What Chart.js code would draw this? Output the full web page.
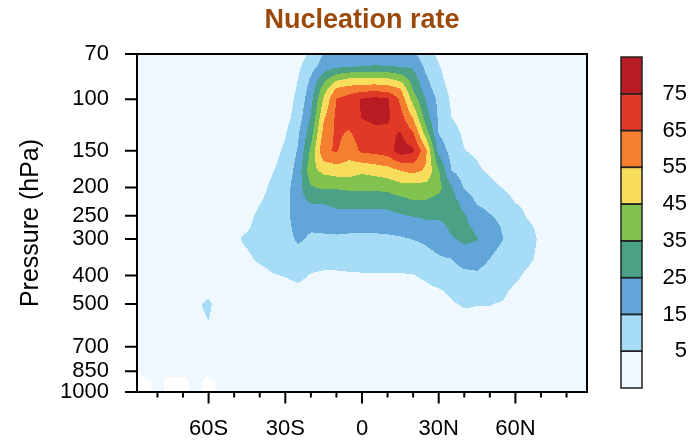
<!DOCTYPE html>
<html>
<head>
<meta charset="utf-8">
<script src="https://cdn.jsdelivr.net/npm/chart.js@4.4.1/dist/chart.umd.min.js"></script>
<style>
  html, body { margin: 0; padding: 0; background: #fff; }
  #wrap { width: 698px; height: 440px; }
</style>
</head>
<body>
<div id="wrap"><canvas id="chart" width="698" height="440"></canvas></div>
<script>
// grid: latitude (deg, S negative) and pressure levels (hPa)
var lats = [-90,-85,-80,-75,-70,-65,-60,-55,-50,-45,-40,-35,-30,-25,-20,-15,-10,-5,0,5,10,15,20,25,30,35,40,45,50,55,60,65,70,75,80,85,90];
var levels = [70,77,85,92,100,115,130,150,175,200,225,250,275,300,350,400,450,500,600,700,850,925,1000];

// nucleation rate, one row per pressure level (null = no data)
//           -90 ............................ -55 | -50 ................................... -5 | 0 ........................................ 45 | 50 ....................... 90
var r70   = [0,0,0,0,0,0,0,0,                 0,0,0,0,0,0,7,15.5,18,20,                         21,21,21,19,16.5,9.3,3,0,0,0,                  0,0,0,0,0,0,0,0,0];
var r77   = [0,0,0,0,0,0,0,0,                 0,0,0,0,0,3,11,19,22.5,24,                        24.5,25.5,25,24,23.5,12.5,5.5,1,0,0,           0,0,0,0,0,0,0,0,0];
var r85   = [0,0,0,0,0,0,0,0,                 0,0,0,0,0,5,16,31,42,45.5,                        46.5,47,46,41,30,16.5,7.2,1.5,0,0,             0,0,0,0,0,0,0,0,0];
var r92   = [0,0,0,0,0,0,0,0,                 0,0,0,0,0,6,19,40,56,59,                          60.5,61,60,55.5,34,20.2,9,2.5,0,0,             0,0,0,0,0,0,0,0,0];
var r100  = [0,0,0,0,0,0,0,0,                 0,0,0,0,0,7.5,21.5,46,65.5,70,                    76,78.5,76.5,63,41,24.5,12.5,3.5,0.5,0,        0,0,0,0,0,0,0,0,0];
var r115  = [0,0,0,0,0,0,0,0,                 0,0,0,0,1,10,25.5,53.5,67,70,                     75.5,78,76.5,69,54,29.5,13.5,5,1.5,0,          0,0,0,0,0,0,0,0,0];
var r130  = [0,0,0,0,0,0,0,0,                 0,0,0,0.5,4.2,13.5,30.5,58,67,64,                 70,72,73,75.5,65.5,40,14.3,8,3.5,0,            0,0,0,0,0,0,0,0,0];
var r150  = [0,0,0,0,0,0,0,0,                 0,0,0,2,6.5,16,37,63.5,66,59,                     67,68,70,80,77,57,22,11,5.3,3.5,               0,0,0,0,0,0,0,0,0];
var r175  = [0,0,0,0,0,0,0,0,                 0,0,0.5,4.4,9,19,42,47.5,50,50,                   47,49,51,55,58,53.5,36,15,10,6.5,              3.5,0,0,0,0,0,0,0,0];
var r200  = [0,0,0,0,0,0,0,0,                 0,0,2,7,11,21,34,36.5,36,37,                      37.3,37,38,41,41,41,38,26,14,10,               8,4.7,1,0,0,0,0,0,0];
var r225  = [0,0,0,0,0,0,0,0,                 0,1,4.5,8.5,12,21,25.5,25.5,28,28,                28,28,28.5,31,34,34,31,29,22,14,               12,10,4.8,3,0,0,0,0,0];
var r250  = [0,0,0,0,0,0,0,0,                 2,2.5,7,9.5,12,20,20,20.5,21.5,21.5,              21.5,21.5,22,24,25.5,26.5,27,28.5,26,19,       15.5,13,8.5,4,1,0,0,0,0];
var r275  = [0,0,0,0,0,0,0,0,                 3,4,8,10,12,18,16,16,16.5,16.5,                   16.6,16.6,17,18,19,22,21,27,27,23.5,           18,14.5,10.5,7,2.5,1,0,0,0];
var r300  = [0,0,0,0,0,0,0,1,                 3.5,6.5,8.5,10,11.5,16.5,13.5,14,14,13.5,         13.3,13.3,13.5,14,15.3,16.5,19,24,27,25.5,     18,15.2,10.5,8,3.5,1,0,0,0];
var r350  = [0,0,0,0,0,0,0,0,                 2.5,3.5,6.5,8,9,11,8.5,8.5,8.5,8.5,               8.4,8.4,8.5,8.5,9,12,14,15,20,19,              15,12.5,8,6.5,3,1,0,0,0];
var r400  = [0,0,0,0,0,0,0,0,                 1,1.5,2,4.5,5.3,6.5,4.5,3.5,3.5,4,                4.3,4.3,4.3,4.4,4.7,6,8,10,12,13.5,            11,9.5,6.5,3.5,1.5,0,0,0,0];
var r450  = [0,0,0,0,0,1,3.5,0,               0,1,1,2,2.5,3.5,2.5,2.5,2.5,2.5,                  3,3,3,3,3,3.5,4.5,6,8,9,                       7.5,6.5,3.5,2,1,0,0,0,0];
var r500  = [0,0,0,0,0,4.2,6,2,               0,0,0.5,1,1.5,2,1.5,1.5,1.5,1.5,                  2,2,2,2,2,2,3,4.5,5.5,5.2,                     5.2,4.6,2,1,0,0,0,0,0];
var r600  = [0,0,0,0,0,3.5,4.6,2,             0,0,0,0.5,1,1.5,1,1,1,1,                          1.5,1.5,1.5,1.5,1.5,1.5,2,2.5,3,3,             3,2.5,1,0.5,0,0,0,0,0];
var r700  = [null,0,0,0,0,1,2,1,              0,0,0,0,0.5,1,0.5,0.5,0.5,0.5,                    1,1,1,1,1,1,1,1.5,2,2,                         2,1.5,0.5,0,0,0,0,0,0];
var r850  = [null,0,0,0,0,0.5,1,0.5,          0,0,0,0,0,0.5,0.5,0.5,0.5,0.5,                    0.5,0.5,0.5,0.5,0.5,0.5,0.5,1,1,1,             1,1,0,0,0,0,0,0,0];
var r925  = [null,null,0,null,null,0,null,0,  0,0,0,0,0,0.5,0.5,0.5,0.5,0.5,                    0.5,0.5,0.5,0.5,0.5,0.5,0.5,0.5,0.5,0.5,       0.5,0.5,0,0,0,0,0,0,0];
var r1000 = [null,null,0,null,null,0,null,0,  0,0,0,0,0,0.5,0.5,0.5,0.5,0.5,                    0.5,0.5,0.5,0.5,0.5,0.5,0.5,0.5,0.5,0.5,       0.5,0.5,0,0,0,0,0,0,0];
var rate = [r70,r77,r85,r92,r100,r115,r130,r150,r175,r200,r225,r250,r275,r300,r350,r400,r450,r500,r600,r700,r850,r925,r1000];

// contour intervals and fill colours (lowest first)
var contourLevels = [5,15,25,35,45,55,65,75];
var fillColors = ['#f0f8ff','#a6dcf6','#62a6d9','#4aa185','#82c350','#f8dc5c','#f47f31','#e03a27','#b81b22'];

// axis ticks
var yTicks = [70,100,150,200,250,300,400,500,700,850,1000];
var xMajor = [-60,-30,0,30,60];
var xMinor = [-80,-70,-50,-40,-20,-10,10,20,40,50,70,80];

Chart.defaults.font.family = "'Liberation Sans', Arial, sans-serif";
Chart.defaults.color = '#000';

function locate(arr, v, useLog) {
    var k = 0;
    while (k < arr.length - 2 && arr[k + 1] < v) k++;
    var f = useLog ? Math.log : function(u) { return u; };
    var t = (f(v) - f(arr[k])) / (f(arr[k + 1]) - f(arr[k]));
    return [k, Math.min(1, Math.max(0, t))];
}

function hexRgb(h) {
    return [parseInt(h.slice(1, 3), 16), parseInt(h.slice(3, 5), 16), parseInt(h.slice(5, 7), 16)];
}

var contourPlugin = {
    id: 'contourFill',
    beforeDatasetsDraw: function(chart) {
        var ctx = chart.ctx, a = chart.chartArea, xs = chart.scales.x, ys = chart.scales.y;
        var left = Math.round(a.left), top = Math.round(a.top);
        var w = Math.round(a.right) - left, h = Math.round(a.bottom) - top;
        var img = ctx.createImageData(w, h);
        var rgb = fillColors.map(hexRgb);
        var cols = [], rows = [];
        for (var i = 0; i < w; i++) cols.push(locate(lats, xs.getValueForPixel(left + i + 0.5), false));
        for (var j = 0; j < h; j++) rows.push(locate(levels, ys.getValueForPixel(top + j + 0.5), true));
        for (j = 0; j < h; j++) {
            var r = rows[j][0], tr = rows[j][1];
            for (i = 0; i < w; i++) {
                var c = cols[i][0], tc = cols[i][1];
                var corners = [
                    [rate[r][c], (1 - tr) * (1 - tc)],
                    [rate[r][c + 1], (1 - tr) * tc],
                    [rate[r + 1][c], tr * (1 - tc)],
                    [rate[r + 1][c + 1], tr * tc]
                ];
                var sum = 0, wsum = 0, miss = 0;
                corners.forEach(function(cw) {
                    if (cw[0] === null) miss += cw[1];
                    else { sum += cw[0] * cw[1]; wsum += cw[1]; }
                });
                if (miss > 0.5 || wsum === 0) continue;
                var v = sum / wsum;
                var idx = 0;
                while (idx < contourLevels.length && v >= contourLevels[idx]) idx++;
                var p = (j * w + i) * 4;
                img.data[p] = rgb[idx][0];
                img.data[p + 1] = rgb[idx][1];
                img.data[p + 2] = rgb[idx][2];
                img.data[p + 3] = 255;
            }
        }
        ctx.putImageData(img, left, top);
    },
    afterDraw: function(chart) {
        var ctx = chart.ctx, a = chart.chartArea, xs = chart.scales.x, ys = chart.scales.y;
        ctx.save();
        ctx.strokeStyle = '#000';
        ctx.lineWidth = 2;
        ctx.strokeRect(a.left, a.top, a.right - a.left, a.bottom - a.top);
        ctx.beginPath();
        yTicks.forEach(function(v) {
            var py = ys.getPixelForValue(v);
            ctx.moveTo(a.left - 12, py);
            ctx.lineTo(a.left, py);
        });
        xMajor.forEach(function(v) {
            var px = xs.getPixelForValue(v);
            ctx.moveTo(px, a.bottom);
            ctx.lineTo(px, a.bottom + 11.5);
        });
        xMinor.forEach(function(v) {
            var px = xs.getPixelForValue(v);
            ctx.moveTo(px, a.bottom);
            ctx.lineTo(px, a.bottom + 5.5);
        });
        ctx.stroke();

        // colour bar
        var bx = 621, bw = 21, btop = 57, bbot = 388;
        var bh = (bbot - btop) / fillColors.length;
        fillColors.forEach(function(col, k) {
            var y0 = bbot - (k + 1) * bh;
            ctx.fillStyle = col;
            ctx.fillRect(bx, y0, bw, bh);
        });
        ctx.lineWidth = 1.5;
        ctx.strokeStyle = '#222';
        fillColors.forEach(function(col, k) {
            ctx.strokeRect(bx, bbot - (k + 1) * bh, bw, bh);
        });
        ctx.fillStyle = '#000';
        ctx.font = "22px 'Liberation Sans', Arial, sans-serif";
        ctx.textAlign = 'right';
        ctx.textBaseline = 'middle';
        contourLevels.forEach(function(l, k) {
            ctx.fillText(String(l), 687, bbot - (k + 1) * bh);
        });
        ctx.restore();
    }
};

function latLabel(v) {
    if (v < 0) return (-v) + 'S';
    if (v > 0) return v + 'N';
    return '0';
}

new Chart(document.getElementById('chart'), {
    type: 'scatter',
    data: { datasets: [] },
    options: {
        responsive: false,
        devicePixelRatio: 1,
        animation: false,
        events: [],
        layout: { padding: { left: 0, right: 111, top: 0, bottom: 0 }, autoPadding: false },
        plugins: {
            legend: { display: false },
            tooltip: { enabled: false },
            title: {
                display: true,
                text: 'Nucleation rate',
                color: '#9b4a0c',
                fullSize: false,
                font: { size: 27, weight: 'bold' },
                padding: { top: 4, bottom: 17.6 }
            }
        },
        scales: {
            x: {
                type: 'linear',
                min: -88,
                max: 88,
                afterBuildTicks: function(s) { s.ticks = xMajor.map(function(v) { return { value: v }; }); },
                afterFit: function(s) { s.height = 48; },
                grid: { display: false, drawTicks: false },
                border: { display: false },
                ticks: { autoSkip: false, maxRotation: 0, padding: 24, font: { size: 22 }, callback: function(v) { return latLabel(v); } }
            },
            y: {
                type: 'logarithmic',
                reverse: true,
                min: 70,
                max: 1000,
                afterBuildTicks: function(s) { s.ticks = yTicks.map(function(v) { return { value: v }; }); },
                afterFit: function(s) { s.width = 137; },
                grid: { display: false, drawTicks: false },
                border: { display: false },
                ticks: { autoSkip: false, padding: 28, font: { size: 22 }, callback: function(v) { return String(v); } },
                title: { display: true, text: 'Pressure (hPa)', font: { size: 25 }, padding: { top: 16, bottom: 0 } }
            }
        }
    },
    plugins: [contourPlugin]
});
</script>
</body>
</html>
